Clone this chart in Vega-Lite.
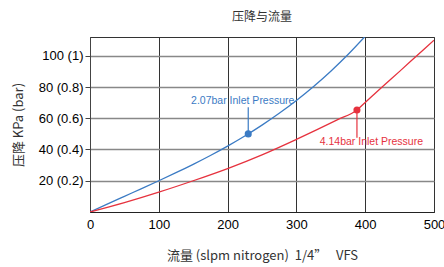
{
  "$schema": "https://vega.github.io/schema/vega-lite/v6.json",
  "width": 344,
  "height": 175,
  "autosize": "none",
  "padding": {"left": 90, "top": 37, "right": 10, "bottom": 55},
  "background": "white",
  "title": {"text": "压降与流量", "fontSize": 12, "font": "Noto Sans CJK SC", "fontWeight": "normal", "color": "#333", "offset": 13, "anchor": "middle"},
  "config": {
    "view": {"stroke": "#333", "strokeWidth": 1},
    "font": "Liberation Sans"
  },
  "layer": [
    {
      "data": {"values": [
        {"series": "2.07bar", "x": 0, "y": 0},
        {"series": "2.07bar", "x": 25, "y": 5.06},
        {"series": "2.07bar", "x": 50, "y": 10.03},
        {"series": "2.07bar", "x": 75, "y": 14.98},
        {"series": "2.07bar", "x": 100, "y": 20.0},
        {"series": "2.07bar", "x": 125, "y": 25.15},
        {"series": "2.07bar", "x": 150, "y": 30.52},
        {"series": "2.07bar", "x": 175, "y": 36.17},
        {"series": "2.07bar", "x": 200, "y": 42.18},
        {"series": "2.07bar", "x": 225, "y": 48.64},
        {"series": "2.07bar", "x": 250, "y": 55.61},
        {"series": "2.07bar", "x": 275, "y": 63.17},
        {"series": "2.07bar", "x": 300, "y": 71.4},
        {"series": "2.07bar", "x": 325, "y": 80.36},
        {"series": "2.07bar", "x": 350, "y": 90.14},
        {"series": "2.07bar", "x": 375, "y": 100.81},
        {"series": "2.07bar", "x": 399, "y": 112},
        {"series": "4.14bar", "x": 0, "y": 0},
        {"series": "4.14bar", "x": 50, "y": 6},
        {"series": "4.14bar", "x": 100, "y": 12.7},
        {"series": "4.14bar", "x": 150, "y": 20},
        {"series": "4.14bar", "x": 200, "y": 27.8},
        {"series": "4.14bar", "x": 250, "y": 36.6},
        {"series": "4.14bar", "x": 300, "y": 46.5},
        {"series": "4.14bar", "x": 330, "y": 52.7},
        {"series": "4.14bar", "x": 360, "y": 59.1},
        {"series": "4.14bar", "x": 388, "y": 65.3},
        {"series": "4.14bar", "x": 400, "y": 70.1},
        {"series": "4.14bar", "x": 425, "y": 80.1},
        {"series": "4.14bar", "x": 450, "y": 90},
        {"series": "4.14bar", "x": 475, "y": 100},
        {"series": "4.14bar", "x": 500, "y": 110}
      ]},
      "mark": {"type": "line", "interpolate": "monotone", "strokeWidth": 1.3, "clip": true},
      "encoding": {
        "x": {"field": "x", "type": "quantitative", "scale": {"domain": [0, 500], "nice": false},
          "axis": {"values": [0, 100, 200, 300, 400, 500], "title": "流量 (slpm nitrogen)\u00a0 1/4”\u00a0\u00a0 VFS",
            "titleFont": "Noto Sans CJK SC", "titleFontSize": 13, "titleFontWeight": "normal", "titleColor": "#333",
            "titleX": 172, "titleY": 43, "titleBaseline": "middle",
            "labelFontSize": 13, "labelColor": "#000", "labelPadding": 6, "labelFlush": false, "ticks": false,
            "domainColor": "#222", "gridColor": "#333", "gridWidth": 1, "gridOpacity": 1}},
        "y": {"field": "y", "type": "quantitative", "scale": {"domain": [0, 112], "nice": false},
          "axis": {"values": [20, 40, 60, 80, 100], "title": "压降 KPa (bar)",
            "labelExpr": "datum.value + ' (' + (datum.value/100) + ')'",
            "titleFont": "Noto Sans CJK SC", "titleFontSize": 13, "titleFontWeight": "normal", "titleColor": "#333",
            "titleX": -72, "titleY": 87.5, "titleBaseline": "middle", "titleAlign": "center", "titleAngle": -90,
            "labelFontSize": 13, "labelColor": "#000", "labelPadding": 2, "labelFlush": false, "tickSize": 5, "tickColor": "#444",
            "domainColor": "#444", "gridColor": "#888", "gridWidth": 1.5, "gridOpacity": 1}},
        "color": {"field": "series", "type": "nominal", "scale": {"domain": ["2.07bar", "4.14bar"], "range": ["#3b7bc4", "#e6323e"]}, "legend": null}
      }
    },
    {
      "data": {"values": [
        {"series": "2.07bar", "x": 230, "y": 50, "y2": 67},
        {"series": "4.14bar", "x": 388, "y": 65.3, "y2": 47.5}
      ]},
      "mark": {"type": "rule", "strokeWidth": 1.2},
      "encoding": {
        "x": {"field": "x", "type": "quantitative"},
        "y": {"field": "y", "type": "quantitative"},
        "y2": {"field": "y2"},
        "color": {"field": "series", "type": "nominal", "legend": null}
      }
    },
    {
      "data": {"values": [
        {"series": "2.07bar", "x": 230, "y": 50},
        {"series": "4.14bar", "x": 388, "y": 65.3}
      ]},
      "mark": {"type": "point", "filled": true, "size": 50, "opacity": 1},
      "encoding": {
        "x": {"field": "x", "type": "quantitative"},
        "y": {"field": "y", "type": "quantitative"},
        "color": {"field": "series", "type": "nominal", "legend": null}
      }
    },
    {
      "data": {"values": [
        {"series": "2.07bar", "x": 222, "y": 71, "label": "2.07bar Inlet Pressure"},
        {"series": "4.14bar", "x": 409, "y": 44.8, "label": "4.14bar Inlet Pressure"}
      ]},
      "mark": {"type": "text", "fontSize": 10.5, "baseline": "middle", "align": "center", "font": "Liberation Sans"},
      "encoding": {
        "x": {"field": "x", "type": "quantitative"},
        "y": {"field": "y", "type": "quantitative"},
        "text": {"field": "label"},
        "color": {"field": "series", "type": "nominal", "scale": {"domain": ["2.07bar", "4.14bar"], "range": ["#3b7bc4", "#e6323e"]}, "legend": null}
      }
    }
  ],
  "resolve": {"scale": {"color": "shared"}}
}
